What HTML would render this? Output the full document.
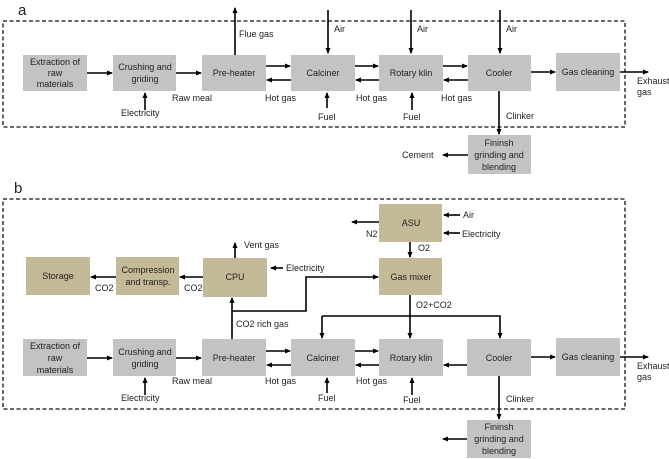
<!DOCTYPE html>
<html><head><meta charset="utf-8"><style>
body{margin:0;background:#fff}
svg{display:block}
text{font-family:"Liberation Sans",sans-serif;font-size:9px;fill:#222}
.g{fill:#c3c3c3}
.t{fill:#c4ba98}
.l{stroke:#000;stroke-width:1.6;fill:none}
.d{stroke:#111;stroke-width:1.3;fill:none;stroke-dasharray:4,2.5}
</style></head><body>
<svg width="669" height="459" viewBox="0 0 669 459" xmlns="http://www.w3.org/2000/svg">
<defs><marker id="a" markerWidth="6" markerHeight="6" refX="5" refY="3" orient="auto" markerUnits="userSpaceOnUse"><path d="M0,0.5 L6,3 L0,5.5z" fill="#000"/></marker></defs>
<text x="18" y="15" style="font-size:15px">a</text>
<text x="14" y="193" style="font-size:15px">b</text>
<rect class="d" x="3" y="21" width="622" height="106"/>
<rect class="d" x="3" y="199" width="622" height="210"/>
<g text-anchor="middle">
<rect class="g" x="23" y="55" width="64" height="36"/><text x="55" y="65">Extraction of</text><text x="55" y="76">raw</text><text x="55" y="87">materials</text>
<rect class="g" x="113" y="55" width="63" height="36"/><text x="145" y="70">Crushing and</text><text x="145" y="82">griding</text>
<rect class="g" x="202" y="55" width="64" height="36"/><text x="234" y="76">Pre-heater</text>
<rect class="g" x="291" y="55" width="64" height="36"/><text x="323" y="76">Calciner</text>
<rect class="g" x="379" y="55" width="64" height="36"/><text x="411" y="76">Rotary klin</text>
<rect class="g" x="468" y="55" width="63" height="36"/><text x="499" y="76">Cooler</text>
<rect class="g" x="556" y="53" width="64" height="38"/><text x="588" y="75">Gas cleaning</text>
<rect class="g" x="468" y="135" width="63" height="39"/><text x="499" y="146">Fininsh</text><text x="499" y="158">grinding and</text><text x="499" y="170">blending</text>
<rect class="t" x="26" y="257" width="64" height="38"/><text x="58" y="279">Storage</text>
<rect class="t" x="116" y="257" width="63" height="38"/><text x="148" y="273">Compression</text><text x="148" y="285">and transp.</text>
<rect class="t" x="203" y="258" width="64" height="39"/><text x="235" y="280">CPU</text>
<rect class="t" x="379" y="204" width="63" height="38"/><text x="411" y="226">ASU</text>
<rect class="t" x="379" y="258" width="63" height="37"/><text x="411" y="280">Gas mixer</text>
<rect class="g" x="23" y="339" width="64" height="37"/><text x="55" y="349">Extraction of</text><text x="55" y="361">raw</text><text x="55" y="373">materials</text>
<rect class="g" x="113" y="339" width="63" height="37"/><text x="145" y="355">Crushing and</text><text x="145" y="367">griding</text>
<rect class="g" x="202" y="339" width="64" height="37"/><text x="234" y="361">Pre-heater</text>
<rect class="g" x="291" y="339" width="64" height="37"/><text x="323" y="361">Calciner</text>
<rect class="g" x="379" y="339" width="64" height="37"/><text x="411" y="361">Rotary klin</text>
<rect class="g" x="467" y="339" width="64" height="37"/><text x="499" y="361">Cooler</text>
<rect class="g" x="556" y="338" width="64" height="38"/><text x="588" y="360">Gas cleaning</text>
<rect class="g" x="467" y="420" width="64" height="38"/><text x="499" y="430">Fininsh</text><text x="499" y="442">grinding and</text><text x="499" y="454">blending</text>
</g>
<g class="l" marker-end="url(#a)">
<path d="M87,73H112"/><path d="M176,73H201"/>
<path d="M266,66H290"/><path d="M291,80H267"/>
<path d="M355,66H378"/><path d="M379,80H356"/>
<path d="M443,66H467"/><path d="M468,80H444"/>
<path d="M531,72H555"/><path d="M620,72H648"/>
<path d="M235,55V8"/><path d="M328,10V53"/><path d="M411,10V53"/><path d="M500,10V53"/>
<path d="M145,110V93"/><path d="M327,108V93"/><path d="M412,110V93"/>
<path d="M499,91V134"/><path d="M468,155H443"/>
</g>
<text x="239" y="37">Flue gas</text><text x="334" y="32">Air</text><text x="417" y="32">Air</text><text x="506" y="32">Air</text>
<text x="121" y="116">Electricity</text><text x="172" y="101">Raw meal</text><text x="265" y="101">Hot gas</text>
<text x="356" y="101">Hot gas</text><text x="441" y="101">Hot gas</text>
<text x="318" y="120">Fuel</text><text x="403" y="120">Fuel</text>
<text x="506" y="119">Clinker</text><text x="402" y="158">Cement</text>
<text x="637" y="84">Exhaust</text><text x="637" y="95">gas</text>
<g class="l" marker-end="url(#a)">
<path d="M87,358H112"/><path d="M176,358H201"/>
<path d="M266,351H290"/><path d="M291,365H267"/>
<path d="M355,351H378"/><path d="M379,365H356"/>
<path d="M467,365H444"/>
<path d="M531,357H555"/><path d="M620,357H648"/>
<path d="M145,395V378"/><path d="M327,393V378"/><path d="M412,395V378"/>
<path d="M499,376V419"/><path d="M467,439H443"/>
<path d="M232,339V298"/><path d="M232,311H306V277H378"/>
<path d="M235,258V243"/><path d="M283,268H271"/>
<path d="M116,277H91"/><path d="M203,277H180"/>
<path d="M379,222H352"/><path d="M460,215H444"/><path d="M460,233H444"/>
<path d="M410,242V257"/>
<path d="M410,295V338"/><path d="M322,316H500V338"/><path d="M322,316V338"/>
</g>
<text x="244" y="248">Vent gas</text><text x="286" y="271">Electricity</text>
<text x="95" y="291">CO2</text><text x="184" y="291">CO2</text>
<text x="236" y="327">CO2 rich gas</text>
<text x="366" y="237">N2</text><text x="418" y="251">O2</text>
<text x="463" y="218">Air</text><text x="462" y="237">Electricity</text>
<text x="416" y="308">O2+CO2</text>
<text x="121" y="401">Electricity</text><text x="172" y="384">Raw meal</text><text x="265" y="384">Hot gas</text>
<text x="356" y="384">Hot gas</text>
<text x="318" y="401">Fuel</text><text x="403" y="403">Fuel</text>
<text x="506" y="402">Clinker</text>
<text x="637" y="369">Exhaust</text><text x="637" y="380">gas</text>
</svg>
</body></html>
